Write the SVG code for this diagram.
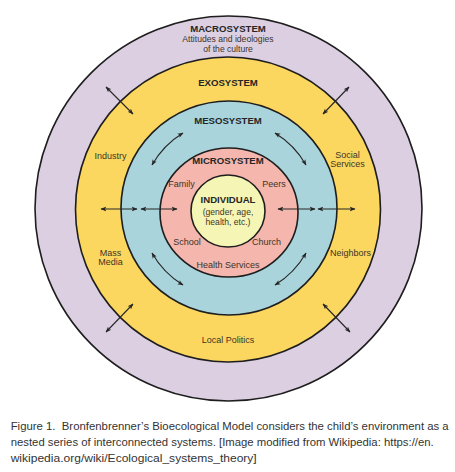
<svg xmlns="http://www.w3.org/2000/svg" width="455" height="472" viewBox="0 0 455 472">
<style>
.ring{stroke:#1e1e1e;stroke-width:1.6}
.hd{font-family:"Liberation Sans",Arial,sans-serif;font-weight:bold;font-size:9.6px;fill:#262626;text-anchor:middle}
.lb{font-family:"Liberation Sans",Arial,sans-serif;font-size:9px;fill:#3d3526;text-anchor:middle}
.sm{font-size:8.6px}
.cap{font-family:"Liberation Sans",Arial,sans-serif;font-size:11.4px;fill:#333}
.ar{fill:none;stroke:#262626;stroke-width:1.1;marker-start:url(#ah);marker-end:url(#ah)}
</style>
<defs>
<marker id="ah" viewBox="0 0 10 10" refX="9" refY="5" markerWidth="6" markerHeight="6" orient="auto-start-reverse" markerUnits="userSpaceOnUse">
<path d="M0,1.2 L10,5 L0,8.8 L2.5,5 Z" fill="#262626"/>
</marker>
</defs>
<rect width="455" height="472" fill="#ffffff"/>
<g id="macrosystem">
<ellipse class="ring" cx="228.5" cy="208.5" rx="193.5" ry="192.5" fill="#dccfe2"/>
<text class="hd" x="228" y="31.5">MACROSYSTEM</text>
<text class="lb sm" x="228" y="42">Attitudes and ideologies</text>
<text class="lb sm" x="228" y="51.5">of the culture</text>
</g>
<g id="exosystem">
<circle class="ring" cx="228" cy="209.5" r="152.5" fill="#fbd760"/>
<text class="hd" x="228" y="86">EXOSYSTEM</text>
<text class="lb" x="110.5" y="158.5">Industry</text>
<text class="lb" x="347.5" y="158">Social</text>
<text class="lb" x="347.5" y="167">Services</text>
<text class="lb" x="110.5" y="256">Mass</text>
<text class="lb" x="110.5" y="264.5">Media</text>
<text class="lb" x="350.5" y="256">Neighbors</text>
<text class="lb" x="228" y="342.5">Local Politics</text>
</g>
<g id="mesosystem">
<ellipse class="ring" cx="229" cy="208" rx="108" ry="107" fill="#a9d4db"/>
<text class="hd" x="228" y="123.5">MESOSYSTEM</text>
</g>
<g id="microsystem">
<ellipse class="ring" cx="229" cy="212.5" rx="69" ry="64.5" fill="#f4b6ad"/>
<text class="hd" x="228" y="164">MICROSYSTEM</text>
<text class="lb" x="181.5" y="187">Family</text>
<text class="lb" x="274" y="187">Peers</text>
<text class="lb" x="187" y="245">School</text>
<text class="lb" x="266.5" y="245">Church</text>
<text class="lb" x="228" y="268">Health Services</text>
</g>
<g id="individual">
<ellipse class="ring" cx="228" cy="211" rx="37" ry="36" fill="#f5f5b5"/>
<text class="hd" x="228" y="203">INDIVIDUAL</text>
<text class="lb sm" x="228" y="215">(gender, age,</text>
<text class="lb sm" x="228" y="224.5">health, etc.)</text>
</g>
<g id="connectors">
<line class="ar" x1="106" y1="87" x2="133" y2="114"/>
<line class="ar" x1="349" y1="87" x2="323" y2="114"/>
<line class="ar" x1="133" y1="304" x2="106" y2="332"/>
<line class="ar" x1="323" y1="304" x2="350" y2="332"/>
<line class="ar" x1="101" y1="209" x2="137" y2="209"/>
<line class="ar" x1="141" y1="209" x2="177" y2="209"/>
<line class="ar" x1="278" y1="209" x2="315" y2="209"/>
<line class="ar" x1="318" y1="209" x2="355" y2="209"/>
<path class="ar" d="M183,133 A89,89 0 0 0 152,165"/>
<path class="ar" d="M275,133 A89,89 0 0 1 306,165"/>
<path class="ar" d="M152,253 A89,89 0 0 0 183,285"/>
<path class="ar" d="M306,253 A89,89 0 0 1 275,285"/>
</g>
<g id="caption">
<text class="cap" x="10.7" y="430" textLength="438" lengthAdjust="spacingAndGlyphs">Figure 1.&#160; Bronfenbrenner’s Bioecological Model considers the child’s environment as a</text>
<text class="cap" x="10.7" y="446" textLength="423" lengthAdjust="spacingAndGlyphs">nested series of interconnected systems. [Image modified from Wikipedia: https://en.</text>
<text class="cap" x="10.7" y="462" textLength="246" lengthAdjust="spacingAndGlyphs">wikipedia.org/wiki/Ecological_systems_theory]</text>
</g>
</svg>
